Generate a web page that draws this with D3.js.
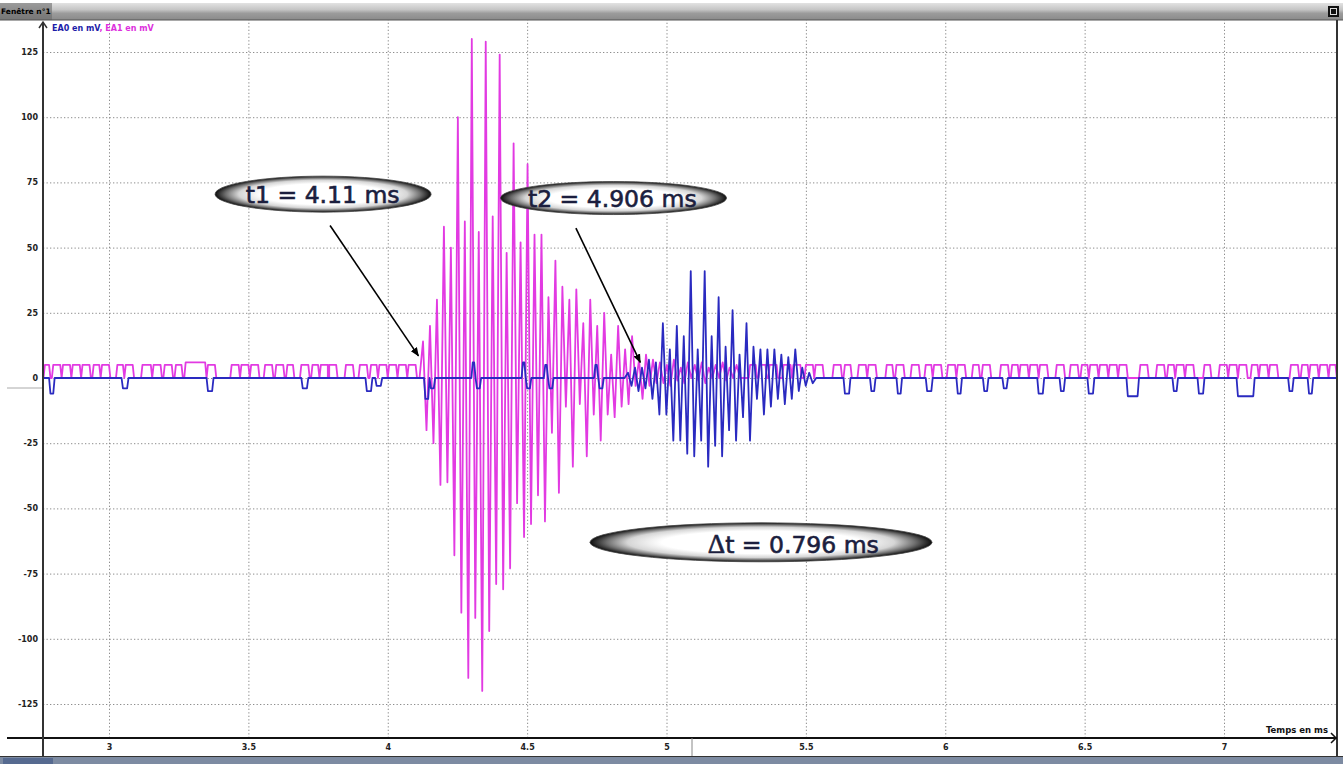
<!DOCTYPE html>
<html>
<head>
<meta charset="utf-8">
<script src="https://d3js.org/d3.v7.min.js"></script>
<style>
body { margin: 0; background: #fff; }
svg { display: block; font-family: "DejaVu Sans", Verdana, sans-serif; }
</style>
</head>
<body>
<div id="root"></div>
<script>
const width = 1343;
const height = 764;

// axes (time in ms, voltage in mV)
const xTicks = [3, 3.5, 4, 4.5, 5, 5.5, 6, 6.5, 7];
const xTickLabels = ['3', '3.5', '4', '4.5', '5', '5.5', '6', '6.5', '7'];
const yTicks = [125, 100, 75, 50, 25, 0, -25, -50, -75, -100, -125];
const tRange = [2.75, 7.42];

// burst samples: one value every 0.0125 ms (alternating extrema)
const sampleStep = 0.0125;

// EA1 (magenta) burst, starting at 4.1265 ms
const ea1BurstStart = 4.1265;
const ea1Burst = [
  14, -20, 20, -25, 30, -41, 58, -40, 50, -68,
  100, -90, 60, -115, 130, -92, 56, -120, 129, -97,
  62, -79, 124, -81, 48, -73, 90, -48, 52, -61,
  82, -56, 55, -45, 55, -55, 31, -21, 45, -44,
  35, -11, 30, -34, 34, -10, 21, -30, 30, -14,
  20, -24, 25, -14, 9, -15, 20, -11, 11, -10,
  16, -3, 7, -8, 9, -3, 7, -2,
  6, -2, 5, -3, 7, -1, 4, -2, 6, 0, 5, -1, 6, -2, 4, 0, 5, 0, 6, -1, 4, 0, 5, 0
];
// EA1 baseline pulses [start ms, end ms, level mV]
const ea1Pulses = [
  [2.770, 2.785, 5], [2.800, 2.825, 5], [2.835, 2.860, 5], [2.870, 2.895, 5], [2.905, 2.930, 5],
  [2.945, 2.965, 5], [2.975, 3.000, 5], [3.030, 3.050, 5], [3.060, 3.085, 5], [3.120, 3.150, 5],
  [3.160, 3.185, 5], [3.200, 3.225, 5], [3.240, 3.260, 5], [3.275, 3.345, 6], [3.355, 3.380, 5],
  [3.440, 3.465, 5], [3.475, 3.500, 5], [3.510, 3.535, 5], [3.560, 3.585, 5], [3.600, 3.625, 5],
  [3.640, 3.660, 5], [3.690, 3.715, 5], [3.730, 3.750, 5], [3.760, 3.785, 5], [3.790, 3.815, 5],
  [3.850, 3.875, 5], [3.900, 3.925, 5], [3.940, 3.960, 5], [3.970, 3.995, 5], [4.005, 4.030, 5],
  [4.040, 4.065, 5], [4.075, 4.100, 5],
  [5.300, 5.320, 5], [5.335, 5.355, 5], [5.370, 5.395, 5], [5.420, 5.445, 5], [5.455, 5.480, 5],
  [5.500, 5.525, 5], [5.535, 5.560, 5], [5.600, 5.625, 5], [5.640, 5.660, 5], [5.690, 5.715, 5],
  [5.725, 5.750, 5], [5.790, 5.810, 5], [5.825, 5.850, 5], [5.880, 5.905, 5], [5.930, 5.950, 5],
  [5.960, 5.985, 5], [6.010, 6.035, 5], [6.045, 6.070, 5], [6.100, 6.120, 5], [6.135, 6.160, 5],
  [6.200, 6.225, 5], [6.240, 6.260, 5], [6.270, 6.295, 5], [6.305, 6.330, 5], [6.340, 6.365, 5],
  [6.400, 6.425, 5], [6.450, 6.475, 5], [6.490, 6.510, 5], [6.520, 6.545, 5], [6.555, 6.580, 5],
  [6.590, 6.615, 5], [6.625, 6.650, 5], [6.700, 6.725, 5], [6.760, 6.785, 5], [6.800, 6.820, 5],
  [6.830, 6.855, 5], [6.865, 6.890, 5], [6.930, 6.950, 5], [6.985, 7.010, 5], [7.020, 7.045, 5],
  [7.055, 7.080, 5], [7.100, 7.120, 5], [7.130, 7.155, 5], [7.165, 7.190, 5], [7.240, 7.265, 5],
  [7.280, 7.300, 5], [7.310, 7.335, 5], [7.345, 7.370, 5], [7.380, 7.400, 5]
];

// EA0 (blue) burst, starting at 4.862 ms
const ea0BurstStart = 4.862;
const ea0Burst = [
  2, -3, 4, -5, 4, -4, 7, -8, 6, -14,
  21, -14, 11, -24, 20, -24, 16, -29, 41, -30,
  11, -24, 41, -34, 16, -26, 31, -30, 12, -20,
  26, -24, 9, -15, 21, -24, 12, -8, 11, -14,
  11, -11, 11, -8, 9, -10, 8, -8, 11, -5,
  4, -3, 2, -2
];
// EA0 baseline blips [start ms, end ms, level mV]
const ea0Blips = [
  [2.790, 2.800, -6], [3.050, 3.065, -4], [3.355, 3.370, -5], [3.695, 3.710, -4],
  [3.925, 3.940, -5], [3.960, 3.975, -3], [4.135, 4.145, -8], [4.155, 4.165, -4],
  [4.305, 4.310, 6], [4.320, 4.330, -4], [4.485, 4.490, 6], [4.500, 4.510, -4],
  [4.565, 4.570, 5], [4.580, 4.590, -4], [4.745, 4.750, 5], [4.760, 4.770, -4],
  [5.640, 5.655, -6], [5.735, 5.745, -5], [5.830, 5.840, -6], [5.935, 5.950, -5],
  [6.045, 6.055, -6], [6.140, 6.150, -5], [6.210, 6.220, -4], [6.335, 6.350, -6],
  [6.415, 6.425, -5], [6.515, 6.530, -6], [6.655, 6.690, -7], [6.820, 6.830, -5],
  [6.910, 6.925, -6], [7.050, 7.105, -7], [7.235, 7.245, -5], [7.305, 7.315, -6]
];

// annotations (placed in data units)
const notes = [
  {label: 't1 = 4.11 ms', t: 3.768, v: 70.5, rx: 108, ry: 18, textStart: 3.491, textV: 67, from: [3.793, 58.5], to: [4.11, 8.5]},
  {label: 't2 = 4.906 ms', t: 4.810, v: 69, rx: 113, ry: 16.5, textStart: 4.503, textV: 65.5, from: [4.675, 57.5], to: [4.906, 6]},
  {label: '\u0394t = 0.796 ms', t: 5.339, v: -63, rx: 171, ry: 19.5, textStart: 5.148, textV: -67, from: null, to: null}
];

const frame = {left: 43, right: 1337, top: 20, bottom: 738};

const svg = d3.select('#root')
  .append('svg')
  .attr('width', width).attr('height', height);

const x = d3.scaleLinear().domain([3, 7]).range([109, 1224]);
const y = d3.scaleLinear().domain([-125, 125]).range([704, 52]);

const defs = svg.append('defs');
const barGrad = defs.append('linearGradient').attr('id', 'bar').attr('x1', 0).attr('y1', 0).attr('x2', 0).attr('y2', 1);
[[0, '#e2e2e2'], [0.4, '#c4c4c4'], [0.6, '#9c9c9c'], [1, '#8a8a8a']].forEach(s =>
  barGrad.append('stop').attr('offset', s[0]).attr('stop-color', s[1]));
const pill = defs.append('radialGradient').attr('id', 'pill');
[[0, '#ffffff'], [0.58, '#ffffff'], [0.78, '#d6d6d6'], [0.9, '#707070'], [1, '#0c0c0c']].forEach(s =>
  pill.append('stop').attr('offset', s[0]).attr('stop-color', s[1]));
defs.append('clipPath').attr('id', 'plot').append('rect')
  .attr('x', frame.left + 1).attr('y', frame.top + 1)
  .attr('width', frame.right - frame.left - 2).attr('height', frame.bottom - frame.top - 2);
defs.append('marker').attr('id', 'head').attr('viewBox', '0 0 10 10')
  .attr('refX', 9).attr('refY', 5).attr('markerWidth', 9).attr('markerHeight', 9)
  .attr('orient', 'auto').attr('markerUnits', 'userSpaceOnUse')
  .append('path').attr('d', 'M0,1 L10,5 L0,9 Z').attr('fill', '#000');

// title bar
svg.append('rect').attr('x', 0).attr('y', 3).attr('width', width).attr('height', 17).attr('fill', 'url(#bar)');
svg.append('rect').attr('x', 0).attr('y', 3).attr('width', 52).attr('height', 17).attr('fill', '#6a6a6a').attr('opacity', 0.6);
svg.append('line').attr('x1', 0).attr('x2', width).attr('y1', 20).attr('y2', 20).attr('stroke', '#555');
svg.append('text').attr('x', 1).attr('y', 14).attr('font-size', 7.5).attr('font-weight', 'bold').attr('fill', '#000').text('Fenêtre n°1');
svg.append('rect').attr('x', 1328).attr('y', 6).attr('width', 11).attr('height', 11).attr('fill', '#111');
svg.append('rect').attr('x', 1330.5).attr('y', 8.5).attr('width', 6).attr('height', 6).attr('fill', 'none').attr('stroke', '#ddd');

// grid
const gridY = svg.append('g')
  .attr('transform', `translate(${frame.left},0)`)
  .call(d3.axisLeft(y).tickValues(yTicks).tickSize(-(frame.right - frame.left)).tickFormat(''));
const gridX = svg.append('g')
  .attr('transform', `translate(0,${frame.bottom})`)
  .call(d3.axisBottom(x).tickValues(xTicks).tickSize(-(frame.bottom - frame.top)).tickFormat(''));
[gridY, gridX].forEach(g => {
  g.select('.domain').remove();
  g.selectAll('line').attr('stroke', '#8c8c8c').attr('stroke-dasharray', '1.3,2.2');
});

// signals
function seriesPoints(blips, burstStart, burst) {
  const ramp = 0.005;
  const pts = [[tRange[0], 0], [tRange[1], 0]];
  blips.forEach(([a, b, v]) => pts.push([a - ramp, 0], [a, v], [b, v], [b + ramp, 0]));
  pts.push([burstStart - sampleStep, 0]);
  burst.forEach((v, i) => pts.push([burstStart + i * sampleStep, v]));
  pts.push([burstStart + burst.length * sampleStep, 0]);
  return pts.sort((p, q) => p[0] - q[0]);
}
const line = d3.line().x(d => x(d[0])).y(d => y(d[1]));
const plot = svg.append('g').attr('clip-path', 'url(#plot)');
plot.append('path').datum(seriesPoints(ea1Pulses, ea1BurstStart, ea1Burst))
  .attr('d', line).attr('fill', 'none').attr('stroke', '#e23ae2')
  .attr('stroke-width', 1.8).attr('stroke-linejoin', 'round');
plot.append('path').datum(seriesPoints(ea0Blips, ea0BurstStart, ea0Burst))
  .attr('d', line).attr('fill', 'none').attr('stroke', '#2a2ac0')
  .attr('stroke-width', 1.8).attr('stroke-linejoin', 'round');

// frame / axes
svg.append('line').attr('x1', 7).attr('x2', frame.left).attr('y1', 388).attr('y2', 388).attr('stroke', '#aaa');
svg.append('line').attr('x1', frame.right).attr('x2', frame.right).attr('y1', frame.top).attr('y2', 757).attr('stroke', '#333').attr('stroke-width', 2);
svg.append('line').attr('x1', 7).attr('x2', frame.right).attr('y1', frame.bottom).attr('y2', frame.bottom).attr('stroke', '#111').attr('stroke-width', 2);
svg.append('line').attr('x1', 692).attr('x2', 692).attr('y1', frame.bottom).attr('y2', 756).attr('stroke', '#888');
svg.append('line').attr('x1', frame.left).attr('x2', frame.left).attr('y1', frame.top + 2).attr('y2', 757).attr('stroke', '#333').attr('stroke-width', 2);
svg.append('path').attr('d', `M${frame.left - 4},${frame.top + 8} L${frame.left},${frame.top + 2} L${frame.left + 4},${frame.top + 8}`)
  .attr('fill', 'none').attr('stroke', '#333').attr('stroke-width', 1.5);
svg.append('path').attr('d', `M${frame.right - 6},${frame.bottom - 5} L${frame.right - 1},${frame.bottom} L${frame.right - 6},${frame.bottom + 5}`)
  .attr('fill', 'none').attr('stroke', '#111').attr('stroke-width', 1.5);

// bottom bar
svg.append('line').attr('x1', 0).attr('x2', width).attr('y1', 756.5).attr('y2', 756.5).attr('stroke', '#333');
svg.append('rect').attr('x', 0).attr('y', 757).attr('width', width).attr('height', 7).attr('fill', '#7d8ba2');
svg.append('rect').attr('x', 3).attr('y', 758).attr('width', 50).attr('height', 6).attr('fill', '#566a90');

// tick labels
const yAxis = svg.append('g')
  .attr('transform', `translate(${frame.left},0)`)
  .call(d3.axisLeft(y).tickValues(yTicks).tickSize(0).tickPadding(5).tickFormat(d => String(d)));
const xAxis = svg.append('g')
  .attr('transform', `translate(0,${frame.bottom})`)
  .call(d3.axisBottom(x).tickValues(xTicks).tickSize(0).tickPadding(6)
    .tickFormat((d, i) => xTickLabels[i]));
[yAxis, xAxis].forEach(g => {
  g.select('.domain').remove();
  g.selectAll('text').attr('font-size', 8).attr('font-weight', 'bold').attr('fill', '#222')
    .attr('font-family', '"DejaVu Sans", Verdana, sans-serif');
});

svg.append('text').attr('x', 1328).attr('y', 733).attr('text-anchor', 'end')
  .attr('font-size', 8.5).attr('font-weight', 'bold').attr('fill', '#111').text('Temps en ms');

const legend = svg.append('text').attr('x', 52).attr('y', 31).attr('font-size', 8).attr('font-weight', 'bold');
legend.append('tspan').attr('fill', '#1c1ca8').text('EA0 en mV');
legend.append('tspan').attr('fill', '#dd30dd').text(', EA1 en mV');

// callouts
notes.forEach(n => {
  if (n.from) {
    svg.append('line')
      .attr('x1', x(n.from[0])).attr('y1', y(n.from[1]))
      .attr('x2', x(n.to[0])).attr('y2', y(n.to[1]))
      .attr('stroke', '#000').attr('stroke-width', 1.6).attr('marker-end', 'url(#head)');
  }
  svg.append('ellipse').attr('cx', x(n.t)).attr('cy', y(n.v)).attr('rx', n.rx).attr('ry', n.ry)
    .attr('fill', 'url(#pill)').attr('stroke', '#444').attr('stroke-width', 0.8);
  const txt = svg.append('text').attr('x', x(n.textStart)).attr('y', y(n.textV))
    .attr('font-size', 23.5).attr('fill', '#1b1e3e')
    .attr('stroke', '#1b1e3e').attr('stroke-width', 0.6);
  if (n.label.startsWith('\u0394')) {
    txt.append('tspan').attr('font-family', '"Liberation Serif", serif').attr('font-size', 27).text('\u0394');
    txt.append('tspan').text(n.label.slice(1));
  } else {
    txt.text(n.label);
  }
});
</script>
</body>
</html>
